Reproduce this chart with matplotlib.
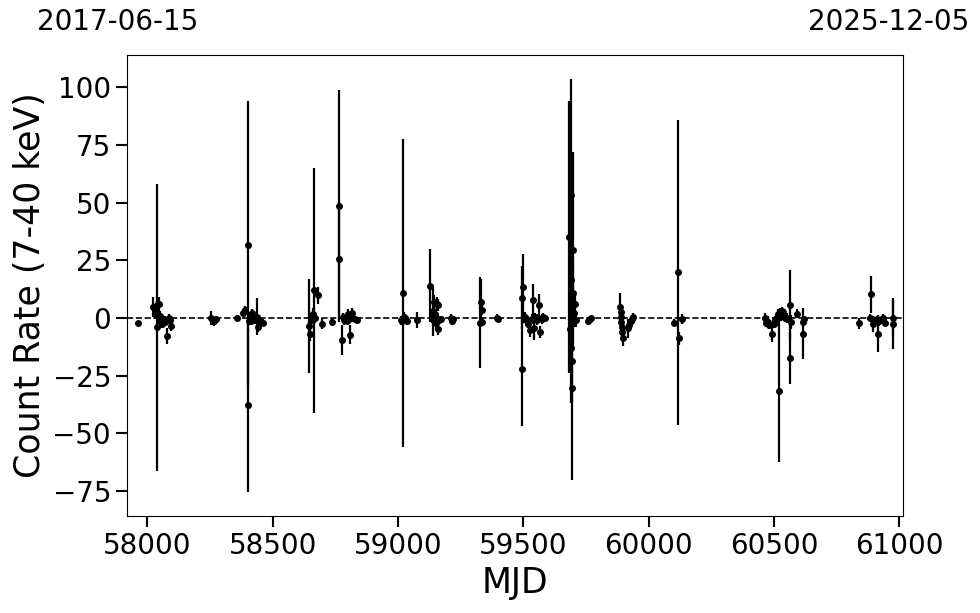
"""Light curve of count rate (7-40 keV) against MJD."""

import matplotlib
matplotlib.use("Agg")
import matplotlib.pyplot as plt

# observation epochs (MJD)
mjd = [
    57962, 58023, 58030, 58039, 58040, 58045, 58048, 58052, 58056, 58059, 58066, 58072, 58079, 58085, 58090, 58096,
    58254, 58262, 58267, 58275, 58358, 58381, 58391, 58401, 58401, 58404, 58408, 58414, 58418, 58424, 58430, 58437,
    58440, 58446, 58451, 58461,
    58646, 58648, 58652, 58658, 58662, 58664, 58670, 58682, 58696, 58737, 58765, 58766, 58775, 58780, 58786, 58790,
    58795, 58800, 58805, 58809, 58815, 58820, 58830, 58837,
    59011, 59017, 59019, 59022, 59028, 59035, 59075, 59128, 59135, 59140, 59141, 59145, 59148, 59150, 59154, 59158,
    59161, 59165, 59170, 59210, 59214, 59218, 59327, 59331, 59334, 59336, 59396, 59400,
    59494, 59495, 59500, 59503, 59507, 59513, 59520, 59527, 59533, 59540, 59541, 59547, 59553, 59560, 59563, 59567,
    59573, 59580, 59586,
    59683, 59686, 59688, 59690, 59691, 59692, 59693, 59694, 59695, 59697, 59699, 59701, 59704, 59708,
    59759, 59764, 59769,
    59887, 59888, 59889, 59890, 59892, 59895, 59899, 59919, 59923, 59928, 59935, 59939,
    60102, 60118, 60119, 60131,
    60464, 60468, 60475, 60481, 60491, 60498, 60503, 60507, 60512, 60517, 60520, 60524, 60528, 60533, 60537, 60543,
    60551, 60564, 60565, 60566, 60591, 60614, 60616, 60620,
    60840, 60883, 60887, 60890, 60896, 60903, 60910, 60916, 60920, 60930, 60936, 60943, 60973, 60976,
]

# count rate
rate = [
    -2.4, 4.8, 2.5, -4.1, 5.5, 6.2, -0.5, 1.0, -1.2, -2.5, -0.5, -1.7, -7.9, 0.0, -1.0, -3.5,
    0.0, -1.5, -1.5, -0.5, 0.0, 2.3, 3.3, 31.8, -37.8, -1.2, 0.5, -1.5, 2.0, 0.0, -1.0, 0.5,
    -3.8, -0.8, -1.5, -2.0,
    -3.5, -6.8, -1.0, 0.5, 1.9, 12.0, 0.0, 9.8, -2.5, -1.7, 48.4, 25.7, -9.4, 0.5, -1.0, -0.5,
    -1.2, 1.5, -0.5, -7.2, 2.0, 0.0, -0.5, -1.0,
    -1.0, -1.5, 10.7, 0.5, 0.0, -1.5, -0.8, 13.9, 0.0, 3.0, -0.5, 6.9, 1.5, -2.0, 5.9, -4.6,
    5.5, -1.0, -0.5, 0.0, -1.5, -0.5, -2.0, 6.9, 3.6, -1.7, 0.0, -0.5,
    -22.2, 8.7, 13.4, 0.0, 0.5, -1.2, -2.5, -5.3, -0.5, 7.6, -4.5, 0.5, -1.0, 0.0, 5.5, -6.0,
    -0.5, 0.5, 0.0,
    35.1, -4.6, 16.3, 53.1, -13.0, 4.1, -30.2, 0.0, -18.8, 29.3, 10.6, 2.0, 6.2, -1.0,
    -1.5, -0.5, 0.0,
    4.8, 2.6, 0.4, -1.7, -3.9, -6.0, -8.5, -4.5, -3.0, -1.2, -0.5, 0.5,
    -2.0, 19.7, -8.9, -0.5,
    0.0, -2.0, -1.7, -3.0, -6.8, -2.5, -1.0, -0.5, 0.5, 1.8, -31.7, 2.3, 1.0, 2.9, 2.5, 0.0,
    0.0, 5.5, -17.2, -1.7, 1.9, -6.8, -1.7, -0.6,
    -2.4, 0.0, 10.3, -0.5, -2.5, -1.5, -0.5, -6.8, -1.5, -0.5, 0.0, -2.0, 0.0, -2.5,
]

# 1-sigma uncertainty on the count rate
rate_err = [
    0.8, 4.3, 3.0, 62.3, 3.5, 3.0, 2.0, 2.0, 2.5, 2.0, 1.5, 2.0, 3.5, 1.5, 1.5, 2.0,
    3.0, 1.5, 2.0, 1.5, 1.0, 1.5, 2.0, 62.1, 37.6, 2.0, 2.0, 1.5, 2.0, 2.0, 1.5, 8.0,
    2.5, 1.5, 1.5, 1.5,
    20.5, 3.0, 3.0, 2.0, 2.5, 53.0, 2.0, 3.6, 2.5, 1.5, 50.2, 25.0, 6.5, 1.5, 2.0, 1.5,
    1.5, 2.5, 1.5, 4.0, 2.5, 1.5, 1.5, 1.5,
    2.0, 1.5, 66.6, 2.0, 1.5, 1.5, 3.5, 15.8, 2.0, 10.7, 2.0, 3.0, 2.0, 3.5, 3.0, 3.0,
    2.5, 2.0, 1.5, 1.5, 1.5, 1.0, 19.8, 10.0, 2.5, 2.0, 1.5, 1.0,
    24.5, 13.7, 14.5, 2.0, 2.0, 2.5, 2.0, 3.0, 2.0, 7.0, 5.0, 1.5, 2.0, 1.5, 5.0, 2.5,
    2.0, 1.5, 1.0,
    59.0, 8.0, 28.0, 50.3, 24.0, 12.0, 40.0, 4.0, 18.0, 42.6, 15.0, 6.0, 5.0, 3.0,
    1.5, 1.5, 1.0,
    6.0, 2.5, 2.0, 2.0, 2.0, 3.0, 3.5, 4.0, 2.5, 2.0, 1.5, 1.5,
    1.5, 66.0, 3.0, 2.0,
    2.0, 2.0, 2.5, 2.0, 3.5, 2.0, 2.0, 1.5, 1.5, 2.0, 30.7, 2.0, 2.5, 2.0, 1.5, 1.5,
    2.0, 15.2, 11.2, 3.0, 2.0, 11.0, 2.0, 1.5,
    2.5, 1.5, 8.0, 1.5, 3.5, 2.0, 1.5, 8.0, 2.0, 1.5, 1.5, 1.5, 7.7, 11.0,
]

start_date = "2017-06-15"
end_date = "2025-12-05"
mjd_start, mjd_end = 57919, 61014

fig, ax = plt.subplots(figsize=(9.8, 6.13), dpi=100)
fig.subplots_adjust(left=0.1296, right=0.9214, top=0.9103, bottom=0.1582)

ax.errorbar(mjd, rate, yerr=rate_err, fmt='o', color='black', ms=4,
            elinewidth=1.6, capsize=0)
ax.axhline(0, color='black', linestyle='--', linewidth=1.2)

ax.set_xlim(mjd_start, mjd_end)
ax.set_ylim(-85.8, 113.9)
ax.set_xticks([58000, 58500, 59000, 59500, 60000, 60500, 61000])
ax.set_yticks([-75, -50, -25, 0, 25, 50, 75, 100])
ax.tick_params(axis='both', labelsize=20, length=8, width=1.5)
ax.set_xlabel('MJD', fontsize=25)
ax.set_ylabel('Count Rate (7-40 keV)', fontsize=25)

# calendar dates of the plotted range
fig.text(118 / 980, 1 - 22 / 613, start_date, fontsize=20, ha='center', va='center')
fig.text(889 / 980, 1 - 22 / 613, end_date, fontsize=20, ha='center', va='center')

fig.savefig('out.png', dpi=100)
